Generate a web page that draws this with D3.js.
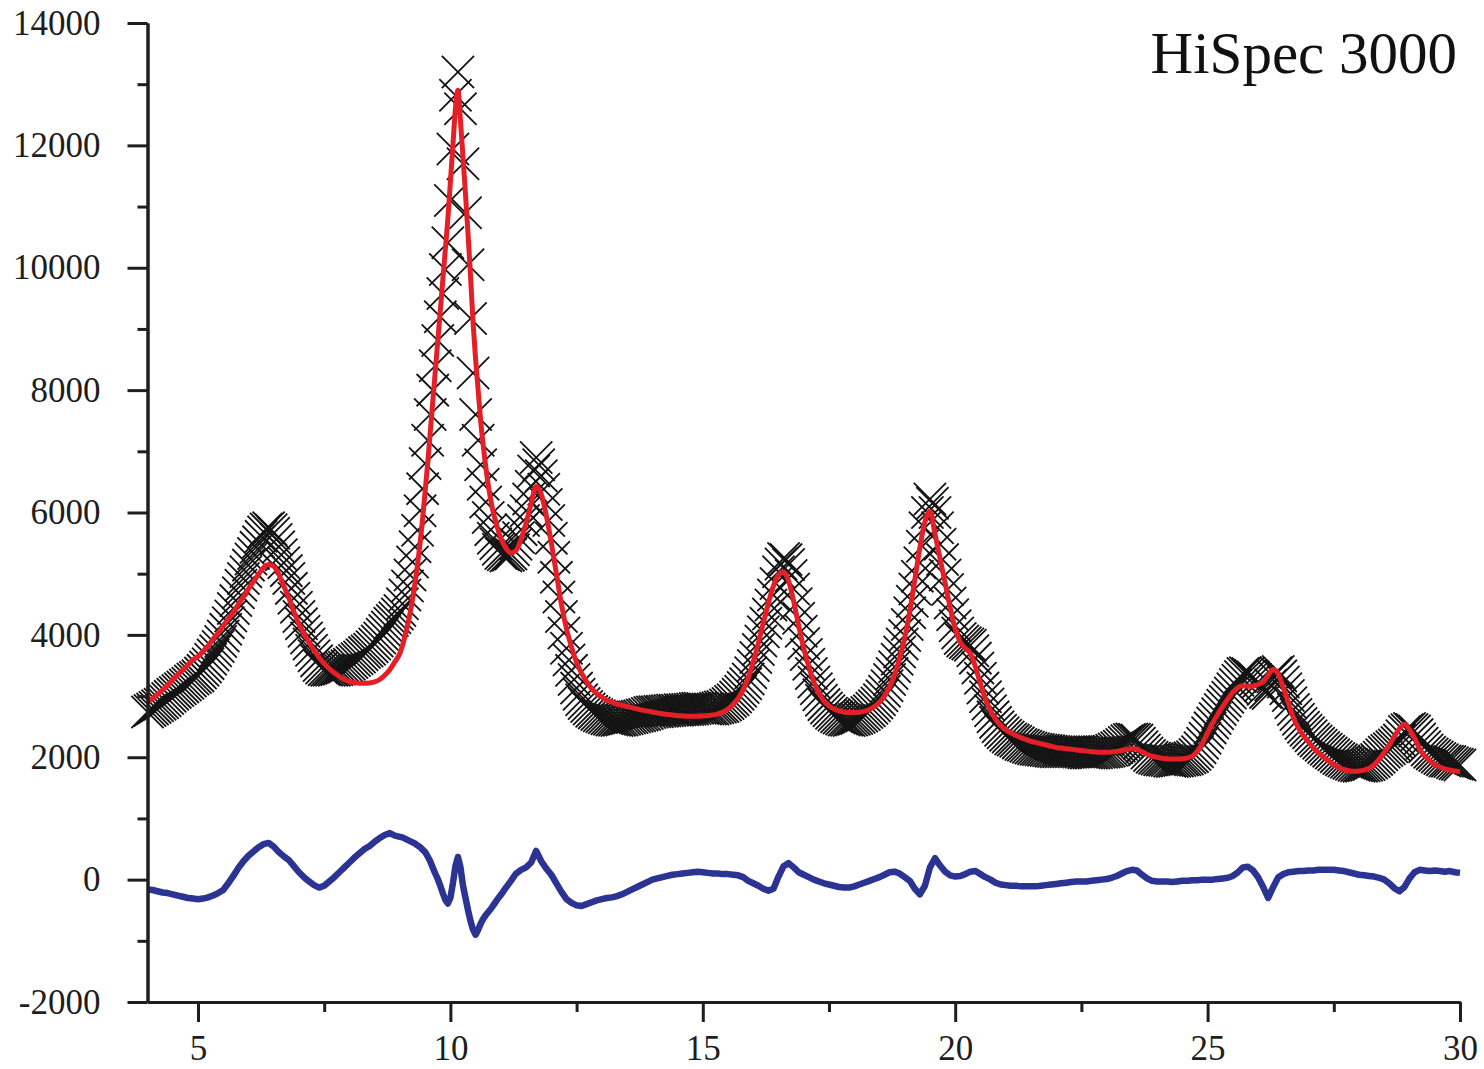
<!DOCTYPE html>
<html>
<head>
<meta charset="utf-8">
<script src="https://cdn.jsdelivr.net/npm/d3@7"></script>
<style>
    body { margin: 0; background: #fff; }
    .axis text { font-family: 'Liberation Serif', 'DejaVu Serif', serif; font-size: 35px; fill: #1e1e1e; }
    .axis path, .axis line { stroke: #1e1e1e; stroke-width: 3px; }
</style>
</head>
<body>
<div id="chart"></div>
<script>
// 2-theta grid of the measured points (deg), 0.05 steps.
const obsTheta = d3.range(80, 601).map(function (i) {return i / 20;});

// 2-theta grid of the fitted curves: 0.1 steps, 0.05 across the main reflection.
const twoTheta = d3.range(40, 90).map(function (i) {return i / 10;})
    .concat(d3.range(180, 220).map(function (i) {return i / 20;}))
    .concat(d3.range(110, 301).map(function (i) {return i / 10;}));

const observed = [
    2740,2765,2790,2815,2840,2865,2890,2925,2960,2995,3030,3060,3090,3120,3150,3180,3210,3245,3280,3305,   // 4
    3330,3375,3420,3475,3530,3600,3670,3740,3810,3890,3980,4090,4200,4310,4430,4560,4690,4810,4920,5030,   // 5
    5140,5240,5330,5430,5520,5610,5680,5730,5750,5720,5660,5560,5440,5310,5180,5050,4920,4760,4600,4450,   // 6
    4300,4180,4060,3950,3850,3750,3660,3575,3500,3460,3430,3420,3420,3420,3420,3430,3440,3455,3470,3495,   // 7
    3520,3550,3580,3610,3640,3675,3710,3735,3765,3805,3850,3900,3950,4010,4070,4130,4190,4235,4280,4340,   // 8
    4400,4510,4650,4800,4980,5190,5440,5710,6030,6390,6800,7180,7600,8000,8400,8810,9200,9580,9970,10410,  // 9
    11100,11940,12820,13200,12600,11700,10900,10050,9170,8280,7600,7180,6780,6460,6170,5920,5720,5580,5490,5400, // 10
    5330,5310,5290,5300,5320,5390,5480,5590,5720,5870,6030,6220,6430,6680,6900,6780,6600,6380,6130,5870,   // 11
    5580,5270,4940,4620,4300,4030,3780,3590,3420,3270,3130,3030,2940,2880,2830,2790,2750,2725,2700,2680,   // 12
    2660,2645,2630,2620,2610,2605,2600,2605,2610,2620,2630,2640,2650,2660,2670,2680,2690,2700,2715,2730,   // 13
    2740,2745,2745,2750,2750,2755,2760,2765,2770,2770,2770,2775,2775,2780,2780,2785,2790,2795,2800,2800,   // 14
    2795,2790,2790,2790,2790,2800,2810,2820,2830,2855,2880,2910,2940,2985,3030,3080,3140,3200,3280,3380,   // 15
    3500,3630,3760,3900,4050,4190,4340,4490,4650,4840,5030,5160,5250,5230,5150,4970,4750,4510,4270,4060,   // 16
    3860,3680,3520,3370,3230,3120,3020,2930,2860,2805,2760,2720,2690,2660,2640,2625,2610,2605,2600,2610,   // 17
    2620,2635,2655,2675,2700,2730,2760,2800,2840,2885,2940,3005,3080,3170,3270,3370,3480,3600,3720,3850,   // 18
    3990,4170,4360,4550,4750,4960,5180,5450,5750,6000,6220,6150,6000,5750,5480,5230,4980,4740,4520,4330,   // 19
    4150,4030,3940,3900,3870,3850,3830,3740,3620,3460,3290,3130,2990,2870,2760,2660,2570,2500,2440,2400,   // 20
    2360,2330,2300,2280,2260,2235,2210,2195,2180,2165,2150,2140,2130,2125,2120,2115,2110,2105,2100,2095,   // 21
    2090,2090,2090,2090,2090,2090,2090,2090,2090,2085,2080,2075,2070,2070,2070,2070,2075,2080,2080,2085,   // 22
    2090,2100,2115,2135,2155,2180,2210,2240,2270,2290,2300,2295,2280,2230,2170,2120,2070,2030,2000,1985,   // 23
    1970,1960,1955,1950,1945,1935,1930,1935,1940,1945,1955,1960,1970,1990,2010,2045,2090,2155,2230,2310,   // 24
    2400,2480,2560,2635,2710,2780,2850,2915,2980,3050,3120,3190,3260,3320,3370,3380,3370,3340,3310,3270,   // 25
    3230,3170,3110,3060,3040,3180,3320,3380,3400,3330,3230,3120,3010,2890,2780,2700,2620,2550,2490,2440,   // 26
    2400,2350,2300,2265,2230,2195,2160,2130,2100,2070,2040,2010,1980,1960,1940,1920,1900,1885,1870,1860,   // 27
    1855,1855,1860,1870,1880,1905,1930,1965,2000,2040,2080,2110,2140,2170,2200,2240,2280,2350,2420,2450,   // 28
    2470,2455,2430,2370,2300,2230,2170,2120,2080,2055,2030,2005,1980,1960,1940,1935,1930,1910,1895,1885,   // 29
    1875                                                                                                   // 30
];

// Calculated profile (red line).
const calculated = [
    2900,2960,3030,3100,3180,3270,3350,3430,3510,3590,                 // 4.x
    3650,3730,3820,3930,4030,4150,4260,4370,4500,4620,                 // 5.x
    4750,4870,4990,5100,5150,5120,4990,4800,4600,4380,                 // 6.x
    4180,4020,3880,3750,3630,3530,3450,3380,3320,3270,                 // 7.x
    3240,3220,3210,3210,3215,3230,3270,3340,3430,3560,                 // 8.x
    3700,3820,3980,4150,4350,4580,4850,5150,5500,5900,
    6350,6800,7300,7800,8300,8800,9300,9800,10300,10800,               // 9.00-9.95
    11400,12000,12600,12900,12400,11800,11200,10550,9850,9100,
    8500,8000,7500,7100,6750,6450,6200,6000,5850,5700,                 // 10.00-10.95
    5580,5420,5340,5380,5560,5830,6150,6430,6300,5950,                 // 11.x
    5500,5000,4500,4100,3800,3550,3370,3230,3120,3040,                 // 12.x
    2980,2930,2900,2870,2850,2830,2810,2790,2770,2755,                 // 13.x
    2740,2725,2710,2700,2690,2680,2675,2670,2670,2670,                 // 14.x
    2675,2680,2690,2710,2740,2790,2860,2960,3100,3300,                 // 15.x
    3560,3860,4200,4520,4800,4980,5030,4880,4550,4150,                 // 16.x
    3780,3480,3230,3050,2920,2840,2790,2760,2740,2730,                 // 17.x
    2730,2735,2750,2780,2830,2900,3000,3150,3350,3620,                 // 18.x
    3950,4380,4900,5420,5850,6020,5650,5250,4850,4450,                 // 19.x
    4100,3880,3780,3700,3480,3200,2950,2760,2620,2520,                 // 20.x
    2450,2400,2360,2320,2290,2260,2240,2220,2200,2180,                 // 21.x
    2160,2150,2140,2130,2120,2110,2100,2090,2085,2080,                 // 22.x
    2080,2085,2095,2110,2130,2140,2130,2090,2050,2020,                 // 23.x
    2000,1985,1975,1970,1970,1975,1990,2020,2100,2230,                 // 24.x
    2400,2560,2700,2830,2950,3060,3140,3170,3160,3160,                 // 25.x
    3190,3230,3340,3440,3360,3140,2890,2650,2480,2350,                 // 26.x
    2250,2150,2070,2000,1940,1880,1830,1800,1780,1770,                 // 27.x
    1775,1790,1820,1880,1970,2080,2200,2340,2470,2540,                 // 28.x
    2450,2310,2140,2020,1940,1880,1840,1810,1790,1775,                 // 29.x
    1765                                                               // 30
];

// Difference curve (blue line).
const difference = [
    -160,-170,-190,-210,-220,-240,-260,-280,-300,-310,                 // 4.x
    -320,-310,-290,-260,-220,-170,-60,60,190,300,                      // 5.x
    390,460,530,580,600,540,450,380,320,220,                           // 6.x
    120,40,-30,-90,-130,-100,-30,40,120,200,                           // 7.x
    280,360,430,500,550,620,680,730,760,720,                           // 8.x
    700,690,670,650,630,610,590,560,530,490,
    450,380,300,200,100,10,-100,-220,-330,-390,                        // 9.00-9.95
    -300,-60,220,370,200,-100,-300,-500,-680,-820,
    -900,-820,-720,-640,-580,-530,-480,-420,-360,-300,                 // 10.00-10.95
    -250,-130,-20,100,160,200,280,470,300,180,                         // 11.x
    80,-60,-200,-320,-380,-420,-430,-400,-370,-340,                    // 12.x
    -320,-300,-290,-270,-240,-200,-160,-120,-80,-40,                   // 13.x
    0,20,40,60,80,90,100,110,120,130,                                  // 14.x
    120,110,100,100,90,90,80,70,40,-20,                                // 15.x
    -60,-100,-150,-180,-150,50,220,270,200,120,                        // 16.x
    80,40,0,-30,-60,-80,-100,-120,-130,-130,                           // 17.x
    -110,-80,-50,-20,10,40,80,120,130,100,                             // 18.x
    40,-20,-150,-240,-100,200,350,230,130,70,                          // 19.x
    50,60,90,130,140,90,40,0,-50,-80,                                  // 20.x
    -90,-100,-100,-110,-110,-110,-110,-100,-90,-80,                    // 21.x
    -70,-60,-50,-40,-30,-30,-30,-20,-10,0,                             // 22.x
    10,30,60,100,140,160,150,80,20,-20,                                // 23.x
    -30,-30,-30,-40,-30,-20,-20,-10,-10,0,                             // 24.x
    0,0,10,20,30,60,120,200,210,150,                                   // 25.x
    40,-120,-300,-120,40,90,120,130,140,140,                           // 26.x
    150,150,160,160,160,160,150,140,120,100,                           // 27.x
    80,70,60,50,30,0,-60,-140,-190,-120,                               // 28.x
    20,120,160,150,140,150,140,130,140,120,                            // 29.x
    110                                                                // 30
];

const xTicks = [5, 10, 15, 20, 25, 30],
    xMinorTicks = [7.5, 12.5, 17.5, 22.5, 27.5],
    yTicks = [-2000, 0, 2000, 4000, 6000, 8000, 10000, 12000, 14000],
    yMinorTicks = [-1000, 1000, 3000, 5000, 7000, 9000, 11000, 13000];
const chartTitle = 'HiSpec 3000';

const width = 1484, height = 1069;

// Create the SVG area.
const svg = d3.select('#chart')
    .append('svg')
    .attr('width', width)
    .attr('height', height);

// Scales.
const x = d3.scaleLinear().domain([4, 30]).range([147.5, 1460]);
const y = d3.scaleLinear().domain([-2000, 14000]).range([1002, 23]);

// Observed points as overlapping crosses.
svg.append('g')
    .selectAll('path')
    .data(obsTheta)
    .join('path')
    .attr('transform', function (d, i) {return 'translate(' + x(d) + ',' + y(observed[i]) + ')';})
    .attr('d', d3.symbol(d3.symbolX, 680))
    .attr('fill', 'none')
    .attr('stroke', '#141414')
    .attr('stroke-width', 1.8);

// Calculated profile.
const calcLine = d3.line()
    .x(function (d, i) {return x(twoTheta[i]);})
    .y(function (d) {return y(d);})
    .curve(d3.curveMonotoneX);
svg.append('path')
    .datum(calculated)
    .attr('d', calcLine)
    .attr('fill', 'none')
    .attr('stroke', '#e41f27')
    .attr('stroke-width', 5)
    .attr('stroke-linejoin', 'round');

// Difference curve.
const diffLine = d3.line()
    .x(function (d, i) {return x(twoTheta[i]);})
    .y(function (d) {return y(d);});
svg.append('path')
    .datum(difference)
    .attr('d', diffLine)
    .attr('fill', 'none')
    .attr('stroke', '#2b3393')
    .attr('stroke-width', 6.5)
    .attr('stroke-linejoin', 'round');

// Axes (major and minor ticks).
const fmt = function (d) {return String(d);};
svg.append('g')
    .attr('class', 'axis')
    .attr('transform', 'translate(147.5,0)')
    .call(d3.axisLeft(y).tickValues(yMinorTicks).tickSize(10).tickSizeOuter(0).tickFormat(''));
svg.append('g')
    .attr('class', 'axis')
    .attr('transform', 'translate(147.5,0)')
    .call(d3.axisLeft(y).tickValues(yTicks).tickSize(20).tickSizeOuter(0).tickPadding(27).tickFormat(fmt));
svg.append('g')
    .attr('class', 'axis')
    .attr('transform', 'translate(0,1002)')
    .call(d3.axisBottom(x).tickValues(xMinorTicks).tickSize(10).tickSizeOuter(0).tickFormat(''));
svg.append('g')
    .attr('class', 'axis')
    .attr('transform', 'translate(0,1002)')
    .call(d3.axisBottom(x).tickValues(xTicks).tickSize(20).tickSizeOuter(0).tickPadding(13).tickFormat(fmt));

// Title.
svg.append('text')
    .attr('x', 1457)
    .attr('y', 73)
    .attr('text-anchor', 'end')
    .style('font-family', "'Liberation Serif', 'DejaVu Serif', serif")
    .style('font-size', '59px')
    .style('fill', '#111')
    .text(chartTitle);
</script>
</body>
</html>
